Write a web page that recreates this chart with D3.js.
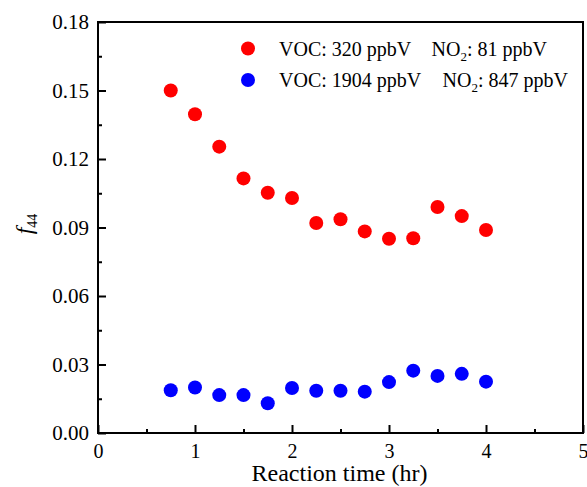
<!DOCTYPE html>
<html>
<head>
<meta charset="utf-8">
<script src="https://cdn.jsdelivr.net/npm/d3@7"></script>
<style>
  html, body { margin: 0; padding: 0; background: #fff; }
  svg { display: block; font-family: "Liberation Serif", "Times New Roman", serif; }
  svg text { font-family: "Liberation Serif", "Times New Roman", serif !important; }
</style>
</head>
<body>
<svg id="chart" width="587" height="487"></svg>
<script>
// ---- data ----
const times = [0.75, 1.0, 1.25, 1.5, 1.75, 2.0, 2.25, 2.5, 2.75, 3.0, 3.25, 3.5, 3.75, 4.0];
const lowVOC = [0.150, 0.1396, 0.1254, 0.1115, 0.1052, 0.1029, 0.0920, 0.0936, 0.0883, 0.0851, 0.0853, 0.0990, 0.0950, 0.0889];
const highVOC = [0.0187, 0.0199, 0.0166, 0.0166, 0.0130, 0.0197, 0.0185, 0.0185, 0.0181, 0.0223, 0.0273, 0.0250, 0.0259, 0.0225];
const seriesNames = [
  ["VOC: 320 ppbV", "NO", "2", ": 81 ppbV"],
  ["VOC: 1904 ppbV", "NO", "2", ": 847 ppbV"]
];
const seriesColors = ["#ff0000", "#0000ff"];
const xTicks = [0, 1, 2, 3, 4, 5];
const xMinor = [0.5, 1.5, 2.5, 3.5, 4.5];
const yTicks = [0, 0.03, 0.06, 0.09, 0.12, 0.15, 0.18];
const yMinor = [0.015, 0.045, 0.075, 0.105, 0.135, 0.165];

// ---- layout ----
const svg = d3.select("#chart");
const L = 98, R = 583, T = 22, B = 433;
const x = d3.scaleLinear().domain([0, 5]).range([L, R]);
const y = d3.scaleLinear().domain([0, 0.18]).range([B, T]);
const FF = "Liberation Serif, Times New Roman, serif";

// frame
svg.append("rect").attr("x", L).attr("y", T).attr("width", R - L).attr("height", B - T)
  .attr("fill", "none").attr("stroke", "#000").attr("stroke-width", 2);

// minor ticks
svg.append("g").attr("transform", `translate(0,${B})`)
  .call(d3.axisBottom(x).tickValues(xMinor).tickSize(-4).tickSizeOuter(0).tickFormat(""))
  .call(g => g.select(".domain").remove())
  .call(g => g.selectAll("line").attr("stroke-width", 2));
svg.append("g").attr("transform", `translate(${L},0)`)
  .call(d3.axisLeft(y).tickValues(yMinor).tickSize(-4).tickSizeOuter(0).tickFormat(""))
  .call(g => g.select(".domain").remove())
  .call(g => g.selectAll("line").attr("stroke-width", 2));

// major ticks + labels
svg.append("g").attr("transform", `translate(0,${B})`).attr("font-family", FF)
  .call(d3.axisBottom(x).tickValues(xTicks).tickSize(-8).tickSizeOuter(0).tickPadding(11).tickFormat(d3.format("d")))
  .call(g => g.attr("font-family", FF))
  .call(g => g.select(".domain").remove())
  .call(g => g.selectAll("line").attr("stroke-width", 2))
  .call(g => g.selectAll("text").attr("font-size", 20).attr("fill", "#000"));
svg.append("g").attr("transform", `translate(${L},0)`)
  .call(d3.axisLeft(y).tickValues(yTicks).tickSize(-8).tickSizeOuter(0).tickPadding(9).tickFormat(d3.format(".2f")))
  .call(g => g.attr("font-family", FF))
  .call(g => g.select(".domain").remove())
  .call(g => g.selectAll("line").attr("stroke-width", 2))
  .call(g => g.selectAll("text").attr("font-size", 21).attr("fill", "#000"));

// axis titles
svg.append("text").attr("x", (L + R) / 2 - 1).attr("y", 481).attr("text-anchor", "middle")
  .attr("font-size", 24).attr("font-family", FF).text("Reaction time (hr)");
const yl = svg.append("text").attr("transform", `translate(32,224) rotate(-90)`).attr("text-anchor", "middle")
  .attr("font-size", 24).attr("font-family", FF);
yl.append("tspan").attr("font-style", "italic").text("f");
yl.append("tspan").attr("font-size", 14).attr("dy", 5).text("44");

// points
const sets = [lowVOC, highVOC];
sets.forEach((vals, i) => {
  svg.append("g").selectAll("circle").data(times.map((t, j) => [t, vals[j]])).join("circle")
    .attr("cx", d => x(d[0])).attr("cy", d => y(d[1])).attr("r", 7)
    .attr("fill", seriesColors[i]);
});

// legend
const legY = [48.5, 80];
seriesNames.forEach((nm, i) => {
  svg.append("circle").attr("cx", 248).attr("cy", legY[i]).attr("r", 7).attr("fill", seriesColors[i]);
  svg.append("text").attr("x", 279).attr("y", legY[i] + 7).attr("font-size", 20).attr("font-family", FF).text(nm[0]);
  const t = svg.append("text").attr("x", i === 0 ? 431.5 : 442.5).attr("y", legY[i] + 7).attr("font-size", 20).attr("font-family", FF);
  t.append("tspan").text(nm[1]);
  t.append("tspan").attr("font-size", 13).attr("dy", 5).text(nm[2]);
  t.append("tspan").attr("dy", -5).text(nm[3]);
});
</script>
</body>
</html>
